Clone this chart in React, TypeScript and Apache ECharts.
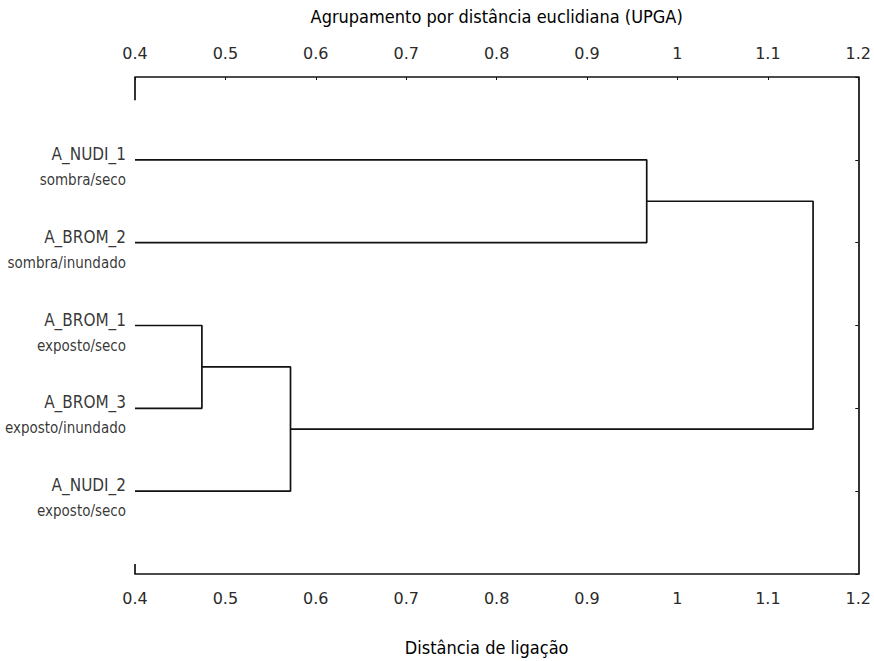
import React, { useEffect, useRef } from "react";
import * as echarts from "echarts";

// Leaves (top to bottom)
const leafNames = ["A_NUDI_1", "A_BROM_2", "A_BROM_1", "A_BROM_3", "A_NUDI_2"];
const leafConditions = ["sombra/seco", "sombra/inundado", "exposto/seco", "exposto/inundado", "exposto/seco"];

// Linkage: clusters 0..4 are leaves, each merge k creates cluster 5 + k
const mergeA = [2, 0, 5, 6];
const mergeB = [3, 1, 4, 7];
const mergeHeight = [0.474, 0.966, 0.572, 1.15];

const axisMin = 0.4;
const axisMax = 1.2;
const axisStep = 0.1;

const topTitle = "Agrupamento por distância euclidiana (UPGA)";
const bottomTitle = "Distância de ligação";

const condensed = "'DejaVu Sans Condensed', 'Liberation Sans Narrow', 'Open Sans', sans-serif";
const lineColor = "#111111";

export default function App() {
  const ref = useRef<HTMLDivElement>(null);

  useEffect(() => {
    if (!ref.current) return;
    const chart = echarts.init(ref.current, undefined, { renderer: "svg" });

    // positions of clusters
    const px: number[] = leafNames.map(() => axisMin);
    const py: number[] = leafNames.map((_, i) => i + 1);
    const links: number[][][] = [];
    mergeA.forEach((a, k) => {
      const b = mergeB[k];
      const h = mergeHeight[k];
      links.push([
        [px[a], py[a]],
        [h, py[a]],
        [h, py[b]],
        [px[b], py[b]],
      ]);
      px.push(h);
      py.push((py[a] + py[b]) / 2);
    });

    const lineSeries = links.map((pts) => ({
      type: "line",
      data: pts,
      symbol: "none",
      lineStyle: { color: lineColor, width: 1.7 },
      silent: true,
    }));

    const frameSeries = [
      [[axisMin, 0], [axisMin, 0.28]],
      [[axisMin, 5.88], [axisMin, 6]],
    ].map((pts) => ({
      type: "line",
      data: pts,
      symbol: "none",
      lineStyle: { color: lineColor, width: 1.7 },
      silent: true,
    }));

    const tickLabel = {
      color: "#2a2a2a",
      fontFamily: "'DejaVu Sans', sans-serif",
      fontSize: 16,
      formatter: (v: number) => String(Math.round(v * 10) / 10),
    };

    chart.setOption({
      animation: false,
      backgroundColor: "#ffffff",
      grid: { left: 135, right: 14, top: 77, bottom: 86 },
      xAxis: [
        {
          type: "value",
          position: "top",
          min: axisMin,
          max: axisMax,
          interval: axisStep,
          name: topTitle,
          nameLocation: "middle",
          nameGap: 52,
          nameTextStyle: { color: "#000", fontFamily: condensed, fontSize: 18 },
          axisLine: { show: true, lineStyle: { color: lineColor, width: 1.7 } },
          axisTick: { show: true, inside: true, length: 3, lineStyle: { color: lineColor } },
          axisLabel: { ...tickLabel, margin: 16 },
          splitLine: { show: false },
        },
        {
          type: "value",
          position: "bottom",
          min: axisMin,
          max: axisMax,
          interval: axisStep,
          name: bottomTitle,
          nameLocation: "middle",
          nameGap: 64,
          nameTextStyle: { color: "#000", fontFamily: condensed, fontSize: 18, padding: [0, 20, 0, 0] },
          axisLine: { show: true, lineStyle: { color: lineColor, width: 1.7 } },
          axisTick: { show: false },
          axisLabel: { ...tickLabel, margin: 16 },
          splitLine: { show: false },
        },
      ],
      yAxis: [
        {
          type: "value",
          min: 0,
          max: 6,
          interval: 1,
          inverse: true,
          position: "right",
          axisLine: { show: true, lineStyle: { color: lineColor, width: 1.7 } },
          axisTick: { show: true, inside: true, length: 3, lineStyle: { color: lineColor } },
          axisLabel: { show: false },
          splitLine: { show: false },
        },
      ],
      series: [
        ...lineSeries,
        ...frameSeries,
        {
          type: "scatter",
          data: leafNames.map((_, i) => [axisMin, i + 1]),
          symbolSize: 0,
          silent: true,
          label: {
            show: true,
            position: "left",
            distance: 9,
            offset: [0, 7],
            align: "right",
            formatter: (p: any) =>
              `{n|${leafNames[p.dataIndex]}}\n{s|${leafConditions[p.dataIndex]}}`,
            rich: {
              n: { fontFamily: condensed, fontSize: 17, color: "#000", lineHeight: 26, align: "right" },
              s: { fontFamily: condensed, fontSize: 15, color: "#000", lineHeight: 26, align: "right" },
            },
          },
        },
      ],
    });

    return () => chart.dispose();
  }, []);

  return (
    <div
      ref={ref}
      style={{ position: "absolute", left: 0, top: 0, width: 874, height: 661, background: "#fff" }}
    />
  );
}
